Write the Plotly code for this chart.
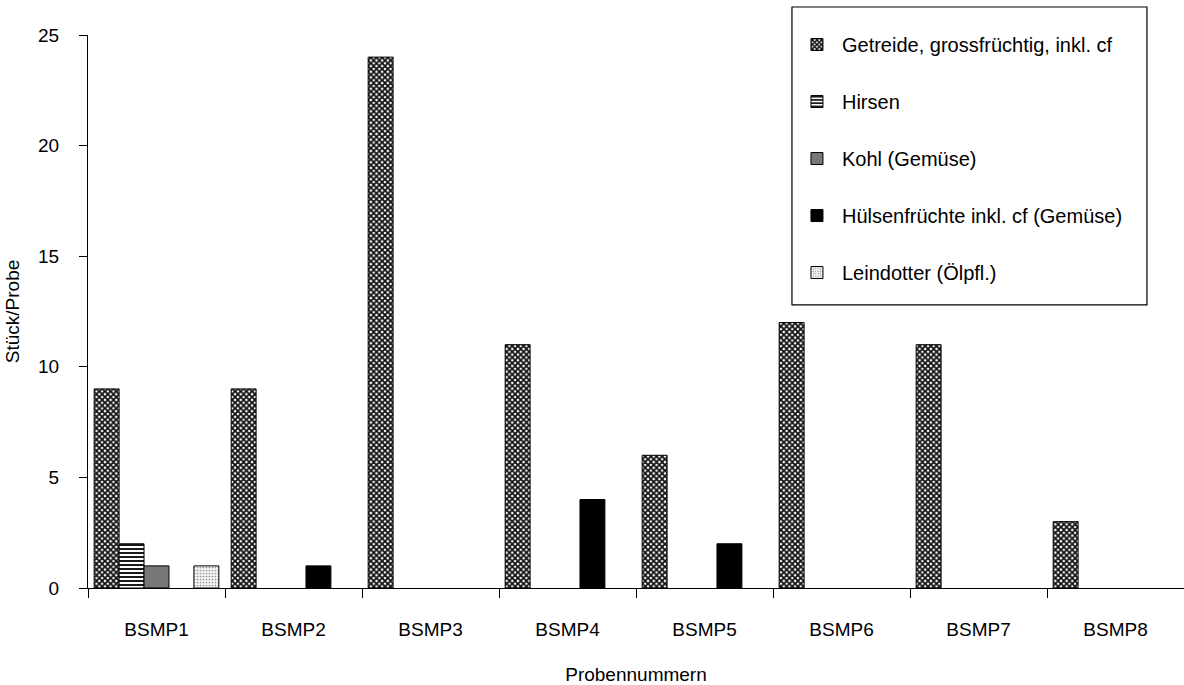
import plotly.graph_objects as go

categories = ["BSMP1", "BSMP2", "BSMP3", "BSMP4", "BSMP5", "BSMP6", "BSMP7", "BSMP8"]
getreide = [9, 9, 24, 11, 6, 12, 11, 3]
hirsen = [2, 0, 0, 0, 0, 0, 0, 0]
kohl = [1, 0, 0, 0, 0, 0, 0, 0]
huelsen = [0, 1, 0, 4, 2, 0, 0, 0]
leindotter = [1, 0, 0, 0, 0, 0, 0, 0]
y_ticks = [0, 5, 10, 15, 20, 25]

FONT = "Liberation Sans, Arial, sans-serif"

series = [
    ("Getreide, grossfrüchtig, inkl. cf", getreide,
     dict(color="white", pattern=dict(shape="x", size=4, solidity=0.7, fgcolor="#111111", bgcolor="white", fillmode="replace"))),
    ("Hirsen", hirsen,
     dict(color="white", pattern=dict(shape="-", size=4, solidity=0.45, fgcolor="black", bgcolor="white", fillmode="replace"))),
    ("Kohl (Gemüse)", kohl, dict(color="#777777")),
    ("Hülsenfrüchte inkl. cf (Gemüse)", huelsen, dict(color="black")),
    ("Leindotter (Ölpfl.)", leindotter,
     dict(color="white", pattern=dict(shape=".", size=3, solidity=0.25, fgcolor="#909090", bgcolor="#f4f4f4", fillmode="replace"))),
]

fig = go.Figure()
for i, (name, vals, mk) in enumerate(series):
    marker = dict(mk)
    marker["line"] = dict(color="black", width=1)
    fig.add_trace(go.Bar(
        x=categories, y=[v if v != 0 else None for v in vals], name=name,
        marker=marker, legendgroup=str(i),
    ))

# legend frame (paper coordinates)
fig.add_shape(type="rect", xref="paper", yref="paper",
              x0=0.6423, x1=0.9662, y0=0.5118, y1=1.0506,
              line=dict(color="black", width=1.2), fillcolor="rgba(0,0,0,0)", layer="below")

fig.update_layout(
    width=1184, height=685,
    margin=dict(l=88, r=0, t=35, b=97),
    paper_bgcolor="white", plot_bgcolor="white",
    barmode="group", bargap=0.09, bargroupgap=0,
    font=dict(family=FONT, size=19, color="black"),
    showlegend=True,
    legend=dict(
        x=0.6423, y=1.018, xanchor="left", yanchor="top",
        borderwidth=0, bgcolor="rgba(0,0,0,0)",
        font=dict(family=FONT, size=20, color="black"),
        traceorder="grouped", tracegroupgap=28,
        itemwidth=40,
    ),
    xaxis=dict(
        type="category", tickson="boundaries", ticks="outside", ticklen=9,
        tickcolor="black", showline=True, linecolor="black", linewidth=1,
        showgrid=False, ticklabelstandoff=24,
        tickfont=dict(family=FONT, size=19),
        title=dict(text="Probennummern", standoff=34, font=dict(family=FONT, size=19)),
        automargin=False,
    ),
    yaxis=dict(
        range=[0, 25], tickvals=y_ticks, ticks="outside", ticklen=8,
        tickcolor="black", showline=True, linecolor="black", linewidth=1,
        showgrid=False, zeroline=False, ticklabelstandoff=16,
        tickfont=dict(family=FONT, size=19),
        title=dict(text="Stück/Probe", standoff=13, font=dict(family=FONT, size=19)),
        automargin=False,
    ),
    xaxis2=dict(
        overlaying="x", range=[-0.5, 7.5], tickvals=[-0.5, 0.5, 1.5, 2.5, 3.5, 4.5, 5.5, 6.5],
        ticks="inside", ticklen=9, tickcolor="black", showticklabels=False,
        showgrid=False, zeroline=False, showline=False, side="bottom",
    ),
    yaxis2=dict(
        overlaying="y", range=[0, 25], tickvals=y_ticks, anchor="x",
        ticks="inside", ticklen=7, tickcolor="black", showticklabels=False,
        showgrid=False, zeroline=False, showline=False, side="left",
    ),
)

fig.write_html("out.html")
